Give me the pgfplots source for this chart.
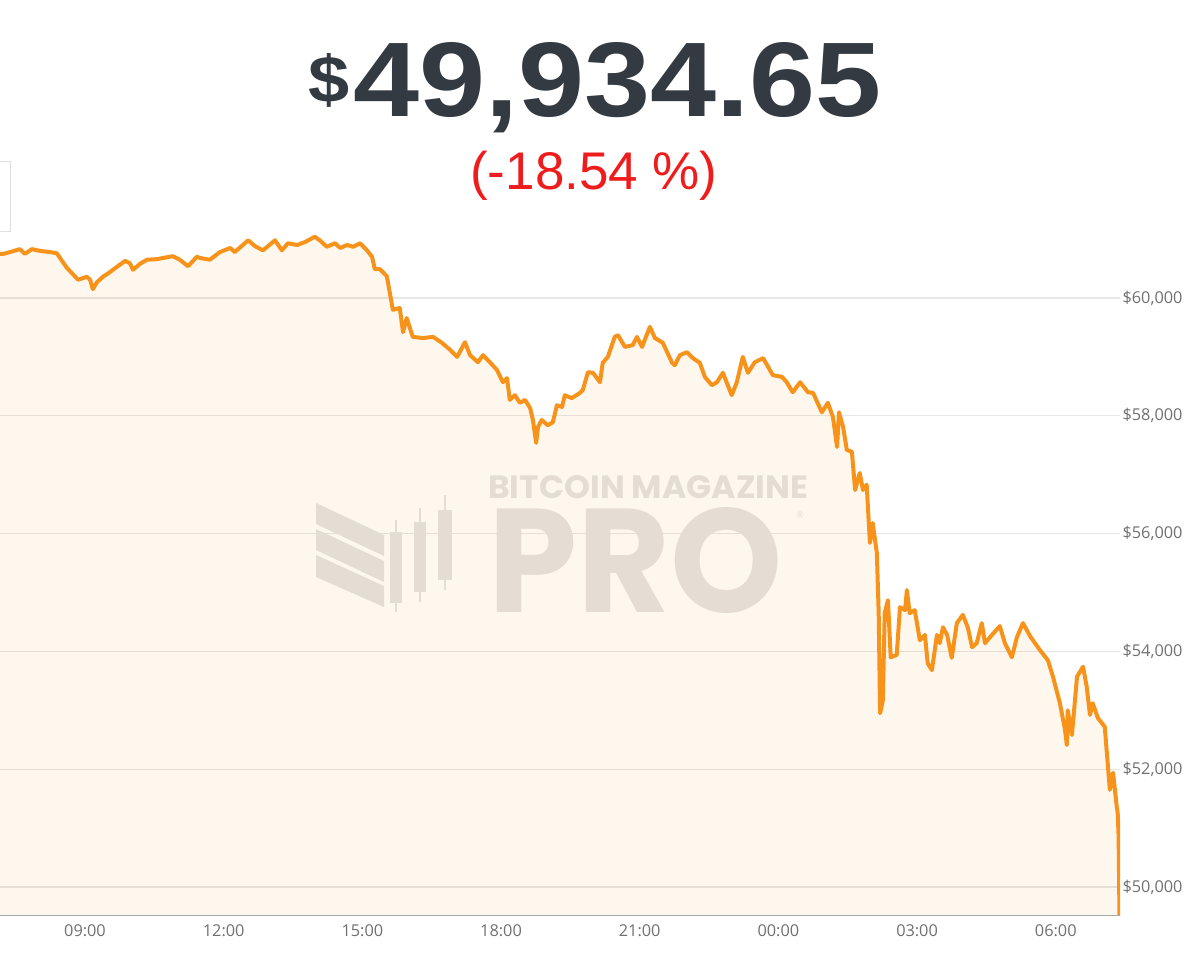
\documentclass[border=0pt]{standalone}
\usepackage{fontspec}
\setmainfont{Open Sans}
\newfontfamily\titlefont{Liberation Sans}
\newfontfamily\wmfont{Poppins}
\usepackage{graphicx}
\usepackage{pgfplots}
\usepackage{pgfplotstable}
\pgfplotsset{compat=1.18}
\definecolor{btc}{HTML}{F7931A}
\definecolor{titlecol}{HTML}{343A42}
\definecolor{pctred}{HTML}{EE1C1C}
\definecolor{tickgray}{HTML}{707070}
\definecolor{gridgray}{HTML}{E6E6E6}
\definecolor{wm}{HTML}{E5DDD3}
\definecolor{axisgray}{HTML}{A8A8A8}

\pgfplotstableread{
h price
7.16 60750
7.23 60750
7.38 60780
7.59 60830
7.70 60750
7.85 60830
8.03 60800
8.24 60780
8.39 60760
8.46 60680
8.61 60510
8.72 60420
8.85 60310
9.04 60360
9.11 60310
9.17 60150
9.26 60270
9.39 60360
9.54 60440
9.69 60530
9.87 60630
9.97 60590
10.04 60480
10.19 60580
10.34 60650
10.56 60660
10.69 60680
10.90 60710
11.05 60650
11.23 60540
11.42 60700
11.49 60680
11.70 60650
11.92 60780
12.14 60850
12.24 60780
12.53 60980
12.68 60880
12.85 60810
13.11 60980
13.26 60810
13.39 60930
13.59 60900
13.76 60950
13.97 61040
14.08 60980
14.23 60870
14.41 60930
14.52 60850
14.67 60900
14.80 60870
14.95 60930
15.10 60810
15.21 60700
15.27 60490
15.38 60490
15.53 60370
15.66 59800
15.81 59830
15.88 59420
15.96 59660
16.09 59340
16.31 59320
16.53 59340
16.72 59240
16.90 59120
17.05 59000
17.22 59250
17.33 59030
17.50 58910
17.61 59030
17.76 58910
17.91 58780
18.04 58570
18.13 58640
18.19 58270
18.30 58350
18.41 58220
18.52 58270
18.63 58130
18.69 57930
18.76 57540
18.80 57810
18.88 57930
19.01 57840
19.12 57890
19.21 58180
19.32 58150
19.38 58350
19.53 58300
19.71 58390
19.77 58440
19.88 58740
19.99 58730
20.14 58570
20.20 58900
20.31 59000
20.46 59340
20.53 59370
20.68 59170
20.85 59200
20.94 59340
21.05 59170
21.22 59510
21.33 59320
21.50 59240
21.70 58900
21.76 58860
21.87 59030
22.02 59080
22.15 58980
22.30 58900
22.41 58660
22.56 58520
22.67 58570
22.80 58730
22.99 58350
23.10 58570
23.23 59000
23.34 58730
23.49 58910
23.67 58980
23.88 58690
24.08 58660
24.18 58570
24.31 58400
24.47 58570
24.64 58400
24.75 58390
24.94 58060
25.07 58220
25.18 57980
25.27 57470
25.31 58060
25.40 57810
25.48 57420
25.59 57390
25.66 56740
25.76 57030
25.83 56740
25.91 56830
25.98 55840
26.04 56180
26.13 55670
26.17 54650
26.20 52950
26.26 53170
26.30 54650
26.37 54870
26.43 53900
26.56 53940
26.63 54750
26.74 54700
26.78 55040
26.84 54650
26.95 54700
27.06 54190
27.17 54280
27.23 53800
27.32 53680
27.43 54280
27.49 54140
27.56 54410
27.65 54280
27.75 53890
27.86 54480
27.99 54620
28.10 54400
28.19 54070
28.29 54140
28.40 54480
28.47 54140
28.62 54280
28.79 54430
28.90 54140
29.05 53900
29.16 54240
29.29 54480
29.46 54240
29.66 54020
29.83 53850
29.94 53570
30.09 53120
30.20 52670
30.24 52410
30.26 53000
30.35 52580
30.46 53570
30.59 53740
30.67 53400
30.74 52920
30.80 53120
30.91 52870
31.06 52720
31.13 52040
31.17 51650
31.24 51940
31.32 51360
31.34 51260
31.36 50850
31.38 49400
}\btcdata

\begin{document}
\begin{tikzpicture}[x=1pt,y=1pt]
\path[use as bounding box] (0,0) rectangle (1200,964);
% small UI box at top-left
\draw[gray!25, line width=1pt, fill=white] (-4,732) rectangle (10,802);
\begin{axis}[
  at={(0pt,48pt)}, anchor=south west,
  scale only axis, width=1120pt, height=686pt,
  xmin=7.1615, xmax=31.39, ymin=49507, ymax=61155,
  axis line style={draw=none},
  major tick length=0pt,
  scaled y ticks=false,
  xtick={9,12,15,18,21,24,27,30},
  xticklabels={09:00,12:00,15:00,18:00,21:00,00:00,03:00,06:00},
  ytick={50000,52000,54000,56000,58000,60000},
  yticklabels={\$50{,}000,\$52{,}000,\$54{,}000,\$56{,}000,\$58{,}000,\$60{,}000},
  yticklabel pos=right,
  ymajorgrids,
  grid style={gridgray, line width=1.2pt},
  tick label style={font=\fontsize{16.3}{19}\selectfont, text=tickgray},
  xticklabel style={yshift=-5pt},
  yticklabel style={anchor=west, xshift=-1pt},
  clip=true,
]
\addplot[draw=none, fill=btc, fill opacity=0.08] table[x=h,y=price]{\btcdata} \closedcycle;
\addplot[btc, line width=4pt, line join=round] table[x=h,y=price]{\btcdata};
\draw[axisgray, line width=2pt] (rel axis cs:0,0) -- (rel axis cs:1,0);
\end{axis}
% watermark
\fill[wm] (316,461) -- (384,429) -- (384,408) -- (316,440) -- cycle;
\fill[wm] (316,435) -- (384,403) -- (384,382) -- (316,414) -- cycle;
\fill[wm] (316,409) -- (384,378) -- (384,357) -- (316,387) -- cycle;
\fill[wm] (390,361) rectangle (402,432);
\fill[wm] (395,352) rectangle (397,444);
\fill[wm] (414,372) rectangle (426,442);
\fill[wm] (419,362) rectangle (421,456);
\fill[wm] (438,384) rectangle (452,454);
\fill[wm] (444,374) rectangle (446,469);
\node[anchor=base west, inner sep=0, text=wm] at (488,465) {\resizebox{320pt}{23pt}{\wmfont\bfseries BITCOIN MAGAZINE}};
\node[anchor=base west, inner sep=0, text=wm] at (488,352) {\resizebox{294pt}{105pt}{\wmfont\bfseries PRO}};
\node[anchor=center, inner sep=0, text=wm] at (800,449) {\fontsize{9}{9}\selectfont ®};
% title
\node[anchor=base, inner sep=0, text=titlecol] at (595,847) {\titlefont\bfseries\scalebox{1.12}[1]{\raisebox{14pt}{\fontsize{66}{66}\selectfont\$}\hspace{4pt}\fontsize{106}{106}\selectfont 49,934.65}};
\node[anchor=base, inner sep=0, text=pctred] at (594,774) {\titlefont\fontsize{53}{53}\selectfont (-18.54 \%)};
\end{tikzpicture}
\end{document}
